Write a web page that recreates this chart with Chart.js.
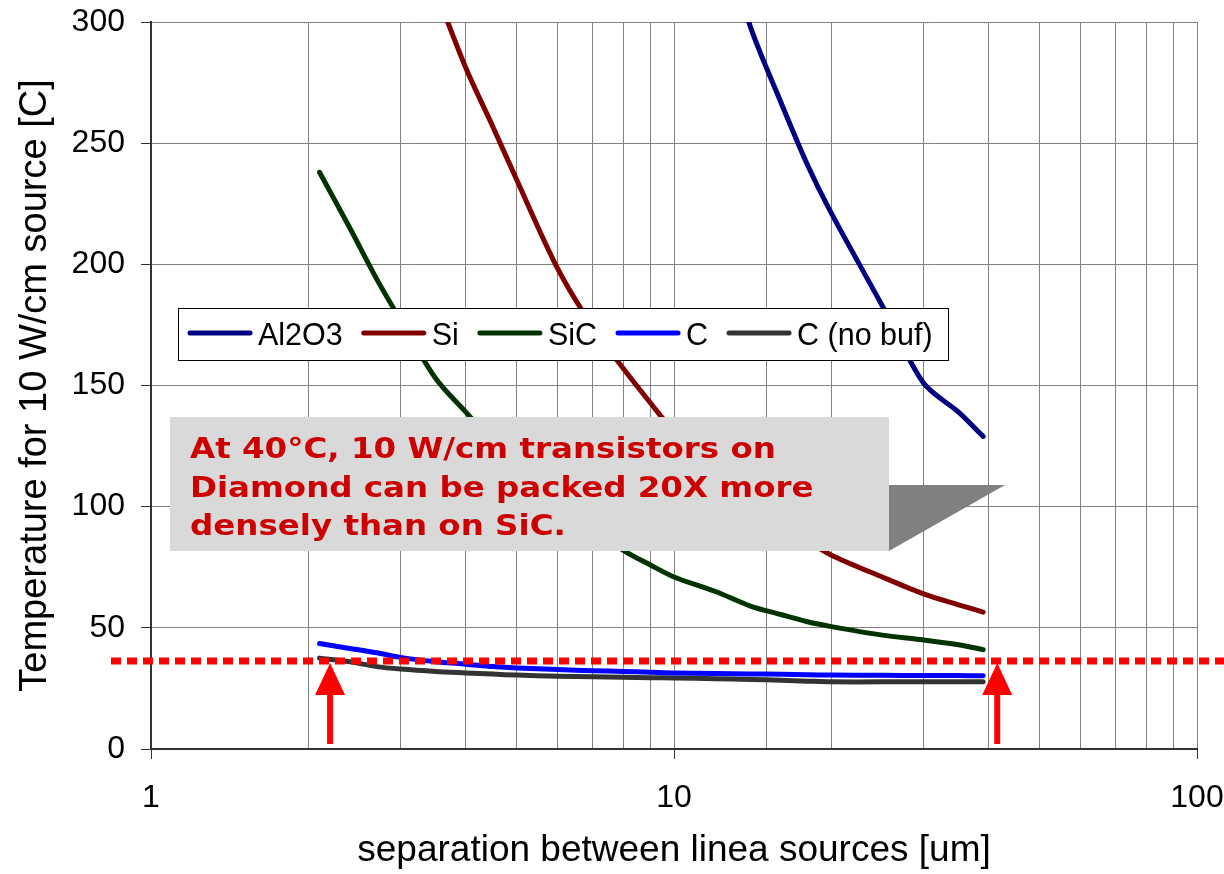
<!DOCTYPE html>
<html>
<head>
<meta charset="utf-8">
<script src="https://cdn.jsdelivr.net/npm/chart.js@4.4.1/dist/chart.umd.min.js"></script>
<style>
    html, body { margin: 0; padding: 0; background: #fff; }
    canvas { display: block; }
</style>
</head>
<body>
<canvas id="chart" width="1224" height="874"></canvas>
<script>
    'use strict';

    // separation between line sources [um]
    const separation = [2.1, 2.4, 2.7, 3, 3.5, 4, 4.5, 5, 6, 7, 8, 9, 10, 12, 14, 16, 18, 20, 25, 30, 35, 39];

    // temperature [C] per substrate (null = off the top of the chart)
    const al2o3Temp = [null, null, null, null, null, null, null, null, null, null, null, null, null,
        345, 298, 267, 241, 221, 183, 151, 139, 129];
    const siTemp = [null, null, null, null, 313, 281, 257, 235, 198, 174, 157, 143, 131,
        115, 103, 94, 86, 80, 71, 64, 59.5, 56.5];
    const sicTemp = [238, 215, 194, 177, 153, 139, 127, 118, 103, 91, 82, 76, 71,
        65, 59, 55.5, 52.5, 50.5, 47, 45, 43, 41];
    const cTemp = [43.5, 41.5, 39.7, 37.8, 36, 35, 34, 33.4, 32.8, 32.3, 32, 31.7, 31.4,
        31.2, 31, 30.8, 30.6, 30.5, 30.4, 30.3, 30.3, 30.2];
    const cNoBufTemp = [37.5, 36, 34, 33, 32, 31.4, 30.9, 30.5, 30, 29.8, 29.6, 29.4, 29.3,
        29, 28.7, 28.4, 28, 27.7, 27.7, 27.7, 27.7, 27.7];

    const seriesNames = ['Al2O3', 'Si', 'SiC', 'C', 'C (no buf)'];
    const seriesColors = ['#000080', '#800000', '#003300', '#0000ff', '#333333'];
    const yTicks = [0, 50, 100, 150, 200, 250, 300];

    // annotation: 40C line and the two separations it crosses
    const thresholdTemp = 36.3;
    const arrowSeparations = [2.2, 41.5];
    const calloutLines = [
        'At 40°C, 10 W/cm transistors on',
        'Diamond can be packed 20X more',
        'densely than on SiC.'
    ];

    const labelFont = '"Liberation Sans", Arial, sans-serif';

    function toPoints(values) {
        return separation.map((x, i) => ({ x: x, y: values[i] }));
    }

    const allValues = [al2o3Temp, siTemp, sicTemp, cTemp, cNoBufTemp];

    // Legend box, callout, dotted threshold line and arrows
    const overlayPlugin = {
        id: 'overlay',
        afterDatasetsDraw(chart) {
            const { ctx, chartArea, scales } = chart;
            const xs = scales.x, ys = scales.y;
            ctx.save();

            // legend
            const lgLeft = chartArea.left + 27, lgTop = chartArea.top + 286;
            const lgW = 770, lgH = 52;
            ctx.fillStyle = '#fff';
            ctx.fillRect(lgLeft, lgTop, lgW, lgH);
            ctx.strokeStyle = '#000';
            ctx.lineWidth = 1;
            ctx.strokeRect(lgLeft + 0.5, lgTop + 0.5, lgW, lgH);
            ctx.font = '30.5px ' + labelFont;
            ctx.textBaseline = 'alphabetic';
            let cx = lgLeft + 10;
            const midY = lgTop + 25;
            chart.data.datasets.forEach(ds => {
                ctx.strokeStyle = ds.borderColor;
                ctx.lineWidth = 5;
                ctx.lineCap = 'round';
                ctx.beginPath();
                ctx.moveTo(cx + 2, midY);
                ctx.lineTo(cx + 62, midY);
                ctx.stroke();
                cx += 70;
                ctx.fillStyle = '#000';
                ctx.fillText(ds.label, cx, midY + 12);
                cx += ctx.measureText(ds.label).width + 19;
            });

            // callout box
            const bxL = chartArea.left + 19, bxT = chartArea.top + 395;
            const bxR = chartArea.left + 738, bxB = chartArea.top + 529;
            ctx.fillStyle = '#d9d9d9';
            ctx.fillRect(bxL, bxT, bxR - bxL, bxB - bxT);
            ctx.fillStyle = '#808080';
            ctx.beginPath();
            ctx.moveTo(bxR, bxT + 68);
            ctx.lineTo(bxR + 116, bxT + 68);
            ctx.lineTo(bxR, bxB);
            ctx.closePath();
            ctx.fill();
            ctx.fillStyle = '#cc0000';
            ctx.font = 'bold 29px "DejaVu Sans", Verdana, sans-serif';
            calloutLines.forEach((line, i) => {
                ctx.save();
                ctx.translate(bxL + 20, bxT + 41 + i * 38.5);
                ctx.scale(1.12, 1);
                ctx.fillText(line, 0, 0);
                ctx.restore();
            });

            // dotted threshold line
            const ty = ys.getPixelForValue(thresholdTemp);
            ctx.strokeStyle = '#ff0000';
            ctx.lineWidth = 7;
            ctx.lineCap = 'butt';
            ctx.setLineDash([10, 6]);
            ctx.beginPath();
            ctx.moveTo(chartArea.left - 40, ty);
            ctx.lineTo(chart.width, ty);
            ctx.stroke();
            ctx.setLineDash([]);

            // arrows
            ctx.fillStyle = '#ff0000';
            arrowSeparations.forEach(v => {
                const ax = xs.getPixelForValue(v);
                const tip = ty + 2;
                ctx.beginPath();
                ctx.moveTo(ax, tip);
                ctx.lineTo(ax + 15, tip + 32);
                ctx.lineTo(ax - 15, tip + 32);
                ctx.closePath();
                ctx.fill();
                ctx.fillRect(ax - 3, tip + 31, 6, 50);
            });

            ctx.restore();
        }
    };

    function isMajor(value) {
        const l = Math.log10(value);
        return Math.abs(l - Math.round(l)) < 1e-9;
    }

    const ctx = document.getElementById('chart').getContext('2d');
    new Chart(ctx, {
        type: 'line',
        data: {
            datasets: seriesNames.map((name, i) => ({
                label: name,
                data: toPoints(allValues[i]),
                borderColor: seriesColors[i],
                backgroundColor: seriesColors[i],
                borderWidth: 5,
                pointRadius: 0,
                tension: 0.3,
                fill: false,
                borderCapStyle: 'round',
                borderJoinStyle: 'round'
            }))
        },
        options: {
            responsive: false,
            animation: false,
            layout: { padding: { top: 22, right: 27, left: 0, bottom: 0 } },
            plugins: {
                legend: { display: false },
                tooltip: { enabled: false }
            },
            scales: {
                x: {
                    type: 'logarithmic',
                    min: 1,
                    max: 100,
                    afterFit: s => {
                        s.height = 125;
                        s.paddingLeft = 0;
                        s.paddingRight = 0;
                    },
                    grid: {
                        color: '#808080',
                        lineWidth: 1,
                        tickLength: 10,
                        tickColor: c => (c.tick && isMajor(c.tick.value)) ? '#333' : 'rgba(0,0,0,0)'
                    },
                    border: { color: '#333', width: 2 },
                    ticks: {
                        autoSkip: false,
                        maxRotation: 0,
                        padding: 20,
                        color: '#000',
                        font: { family: labelFont, size: 32 },
                        callback: v => isMajor(v) ? String(Math.round(v)) : ''
                    },
                    title: {
                        display: true,
                        text: 'separation between linea sources [um]',
                        color: '#000',
                        font: { family: labelFont, size: 37 },
                        padding: { top: 0, bottom: 1 }
                    }
                },
                y: {
                    min: 0,
                    max: 300,
                    afterFit: s => {
                        s.width = 151;
                        s.paddingTop = 0;
                        s.paddingBottom = 0;
                    },
                    afterBuildTicks: s => { s.ticks = yTicks.map(v => ({ value: v })); },
                    grid: { color: '#808080', lineWidth: 1, tickLength: 10, tickColor: '#333' },
                    border: { color: '#333', width: 2 },
                    ticks: {
                        padding: 16,
                        color: '#000',
                        font: { family: labelFont, size: 32 }
                    },
                    title: {
                        display: true,
                        text: 'Temperature for 10 W/cm source [C]',
                        color: '#000',
                        font: { family: labelFont, size: 38 },
                        padding: { top: 13, bottom: 0 }
                    }
                }
            }
        },
        plugins: [overlayPlugin]
    });
</script>
</body>
</html>
